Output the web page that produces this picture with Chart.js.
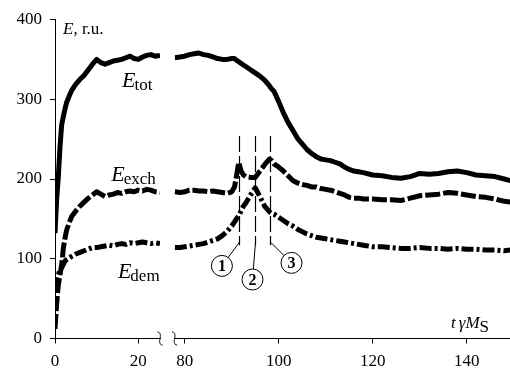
<!DOCTYPE html>
<html>
<head>
<meta charset="utf-8">
<script src="https://cdn.jsdelivr.net/npm/chart.js@4.4.0/dist/chart.umd.min.js"></script>
<style>
  body { margin: 0; background: #fff; }
  #wrap { position: relative; width: 510px; height: 368px; overflow: hidden; }
  canvas { position: absolute; top: 0; }
  #early { left: 0; }
  #late { left: 168px; }
</style>
</head>
<body>
<div id="wrap">
  <canvas id="early" width="168" height="368"></canvas>
  <canvas id="late" width="342" height="368"></canvas>
</div>
<script>
// energies vs. time, axis broken between 25 and 78
const tEarly    = [0, 0.4, 0.8, 1.2, 1.6, 2, 2.4, 2.8, 3.4, 4, 5, 6, 7, 8, 9, 10, 11, 12, 13, 14, 15, 16, 17, 18, 19, 20, 21, 22, 23, 24, 25.2];
const totEarly  = [132, 175, 203, 240, 268, 278, 288, 296, 304, 311, 319, 325, 330, 337, 344, 350, 346, 344, 346, 348, 349, 350, 352, 354, 351, 350, 353, 355, 356, 354, 355];
const exchEarly = [12, 44, 67, 80, 92, 113, 126, 136, 145, 153, 160, 166, 171, 176, 180, 184, 181, 178, 180, 181, 183, 182, 184, 185, 184, 186, 185, 187, 186, 184, 183];
const demEarly  = [62, 72, 80, 86, 89, 93, 97, 99, 101, 103, 106, 108, 110, 112, 114, 114, 115, 116, 117, 116, 118, 119, 118, 120, 119, 120, 121, 120, 119, 120, 119];

const tLate    = [77.9, 79, 80, 81, 82, 83, 84, 85, 86, 87, 88, 89, 90, 90.6, 91, 91.5, 92, 92.5, 93, 94, 95, 96, 97, 98, 98.5, 99, 100, 101, 102, 103, 104, 105, 106, 107, 108, 109, 110, 111, 112, 113, 114, 115, 116, 117, 118, 120, 122, 124, 126, 128, 130, 132, 134, 136, 138, 140, 142, 144, 146, 148, 149.3];
const totLate  = [352, 353, 354, 356, 357, 358, 356, 355, 353, 351, 350, 350, 351, 351, 349, 347, 345, 343, 341, 337, 333, 329, 324, 317, 313, 310, 297, 283, 271, 261, 251, 244, 237, 232, 228, 225, 224, 223, 221, 219, 215, 212, 210, 209, 208, 205, 204, 202, 201, 203, 207, 206, 207, 209, 210, 208, 205, 204, 203, 200, 198];
const exchLate = [184, 183, 184, 186, 186, 185, 185, 184, 185, 184, 183, 182, 184, 190, 203, 221, 210, 205, 203, 202, 202, 210, 218, 225, 223, 219, 215, 210, 204, 198, 195, 193, 192, 190, 190, 188, 187, 186, 184, 182, 180, 177, 176, 176, 175, 175, 174, 174, 173, 176, 179, 180, 181, 183, 182, 180, 178, 177, 175, 172, 171];
const demLate  = [114, 114, 115, 116, 117, 118, 119, 121, 123, 125, 129, 134, 141, 146, 150, 154, 160, 166, 170, 180, 189, 178, 166, 159, 157, 156, 152, 148, 144, 141, 137, 134, 131, 129, 127, 126, 125, 124, 123, 122, 121, 120, 119, 118, 117, 115, 115, 114, 113, 113, 114, 113, 113, 112, 113, 112, 112, 111, 111, 110, 111];

const yTicks = [0, 100, 200, 300, 400];
const xTicksEarly = [0, 20];
const xTicksLate = [80, 100, 120, 140];

// moments marked by the vertical dashed lines
const markT = [91.6, 95.0, 98.25];
const markLabels = ['1', '2', '3'];

const serif = "'Liberation Serif', 'Times New Roman', serif";
Chart.defaults.font.family = serif;
Chart.defaults.font.size = 17;
Chart.defaults.color = '#000';

const lineStyle = {
  tot:  { borderDash: [] },
  exch: { borderDash: [15, 3] },
  dem:  { borderDash: [12, 3, 3, 3] }
};

function makeDatasets(t, tot, exch, dem) {
  const pts = arr => arr.map((v, i) => ({ x: t[i], y: v }));
  return [
    { data: pts(tot), ...lineStyle.tot },
    { data: pts(exch), ...lineStyle.exch },
    { data: pts(dem), ...lineStyle.dem }
  ].map(d => Object.assign(d, {
    borderColor: '#000', borderWidth: 5, pointRadius: 0, tension: 0,
    borderCapStyle: 'butt', borderJoinStyle: 'round', fill: false
  }));
}

function xAxis(min, max, ticks) {
  return {
    type: 'linear', min, max,
    afterBuildTicks: s => { s.ticks = ticks.map(v => ({ value: v })); },
    afterFit: s => { s.height = 29.5; },
    grid: { display: true, drawOnChartArea: false, drawTicks: true, tickLength: 5, tickColor: '#000', tickWidth: 1 },
    border: { display: true, color: '#000', width: 1 },
    ticks: { padding: 8, maxRotation: 0 }
  };
}

// little S-shaped marks where the time axis is cut
function breakMark(side) {
  return {
    id: 'break-' + side,
    afterDraw(chart) {
      const { ctx, chartArea } = chart;
      const x = side === 'right' ? chartArea.right : chartArea.left;
      const y = chartArea.bottom;
      ctx.save();
      ctx.strokeStyle = '#000';
      ctx.lineWidth = 1;
      ctx.beginPath();
      ctx.moveTo(x - 2.5, y - 6.5);
      ctx.bezierCurveTo(x + 1, y - 6.5, x + 0.5, y - 2, x, y);
      ctx.bezierCurveTo(x - 0.5, y + 2, x - 1, y + 6.5, x + 2.5, y + 6.5);
      ctx.stroke();
      ctx.restore();
    }
  };
}

function drawSubscripted(ctx, x, y, main, sub, mainSize, subSize, dy) {
  ctx.font = `italic ${mainSize}px ${serif}`;
  ctx.fillText(main, x, y);
  const w = ctx.measureText(main).width;
  ctx.font = `${subSize}px ${serif}`;
  ctx.fillText(sub, x + w - 1, y + dy);
}

const seriesLabels = [
  { main: 'E', sub: 'tot',  t: 16.1, e: 315 },
  { main: 'E', sub: 'exch', t: 13.5, e: 197 },
  { main: 'E', sub: 'dem',  t: 15.1, e: 76 }
];

const earlyText = {
  id: 'earlyText',
  afterDraw(chart) {
    const { ctx, chartArea, scales: { x, y } } = chart;
    ctx.save();
    ctx.fillStyle = '#000';
    ctx.textAlign = 'left';
    ctx.textBaseline = 'alphabetic';
    // y axis title
    ctx.font = `italic 17px ${serif}`;
    ctx.fillText('E', chartArea.left + 8, chartArea.top + 14.5);
    const w = ctx.measureText('E').width;
    ctx.font = `17px ${serif}`;
    ctx.fillText(', r.u.', chartArea.left + 8 + w, chartArea.top + 14.5);
    seriesLabels.forEach(l => {
      drawSubscripted(ctx, x.getPixelForValue(l.t), y.getPixelForValue(l.e), l.main, l.sub, 22, 17, 3);
    });
    ctx.restore();
  }
};

// circle offsets (px) from the lower end of each dashed line
const circleOffset = [[-17.6, 20.7], [-3, 34.3], [21, 17.7]];

const lateText = {
  id: 'lateText',
  afterDatasetsDraw(chart) {
    const { ctx, chartArea, scales: { x, y } } = chart;
    ctx.save();
    markT.forEach((t, i) => {
      const px = Math.round(x.getPixelForValue(t)) + 0.5;
      const top = y.getPixelForValue(254);
      const bot = y.getPixelForValue(117);
      ctx.strokeStyle = '#000';
      ctx.lineWidth = 1.2;
      ctx.setLineDash([16, 4]);
      ctx.beginPath();
      ctx.moveTo(px, top);
      ctx.lineTo(px, bot);
      ctx.stroke();
      ctx.setLineDash([]);

      const [dx, dy] = circleOffset[i];
      const cx = px + dx, cy = bot + dy, r = 10.5;
      const ex = px, ey = bot - 3;
      const ang = Math.atan2(ey - cy, ex - cx);
      ctx.lineWidth = 1;
      ctx.beginPath();
      ctx.moveTo(cx + r * Math.cos(ang), cy + r * Math.sin(ang));
      ctx.lineTo(ex, ey);
      ctx.stroke();
      ctx.fillStyle = '#fff';
      ctx.beginPath();
      ctx.arc(cx, cy, r, 0, Math.PI * 2);
      ctx.fill();
      ctx.stroke();
      ctx.fillStyle = '#000';
      ctx.font = `bold 16px ${serif}`;
      ctx.textAlign = 'center';
      ctx.textBaseline = 'middle';
      ctx.fillText(markLabels[i], cx, cy + 1);
    });

    // time axis title
    ctx.textAlign = 'left';
    ctx.textBaseline = 'alphabetic';
    ctx.fillStyle = '#000';
    let xx = chartArea.right - 59, yy = chartArea.bottom - 11;
    ctx.font = `italic 17px ${serif}`;
    ctx.fillText('t', xx, yy);
    xx += ctx.measureText('t').width + 3;
    ctx.fillText('\u03B3M', xx, yy);
    xx += ctx.measureText('\u03B3M').width;
    ctx.font = `17px ${serif}`;
    ctx.fillText('S', xx, yy + 4);
    ctx.restore();
  }
};

new Chart(document.getElementById('early'), {
  type: 'line',
  data: { datasets: makeDatasets(tEarly, totEarly, exchEarly, demEarly) },
  options: {
    responsive: false,
    animation: false,
    layout: { padding: { left: 0, top: 19.5, right: 8, bottom: 0 } },
    plugins: { legend: { display: false }, tooltip: { enabled: false } },
    scales: {
      x: xAxis(0, 25.2, xTicksEarly),
      y: {
        type: 'linear', min: 0, max: 400,
        afterBuildTicks: s => { s.ticks = yTicks.map(v => ({ value: v })); },
        afterFit: s => { s.width = 55; },
        grid: { display: true, drawOnChartArea: false, drawTicks: true, tickLength: 5, tickColor: '#000', tickWidth: 1 },
        border: { display: true, color: '#000', width: 1 },
        ticks: { padding: 8 }
      }
    }
  },
  plugins: [breakMark('right'), earlyText]
});

new Chart(document.getElementById('late'), {
  type: 'line',
  data: { datasets: makeDatasets(tLate, totLate, exchLate, demLate) },
  options: {
    responsive: false,
    animation: false,
    layout: { padding: { left: 6, top: 19.5, right: 0, bottom: 0 } },
    plugins: { legend: { display: false }, tooltip: { enabled: false } },
    scales: {
      x: xAxis(77.86, 149.2, xTicksLate),
      y: { type: 'linear', min: 0, max: 400, display: false }
    }
  },
  plugins: [breakMark('left'), lateText]
});
</script>
</body>
</html>
